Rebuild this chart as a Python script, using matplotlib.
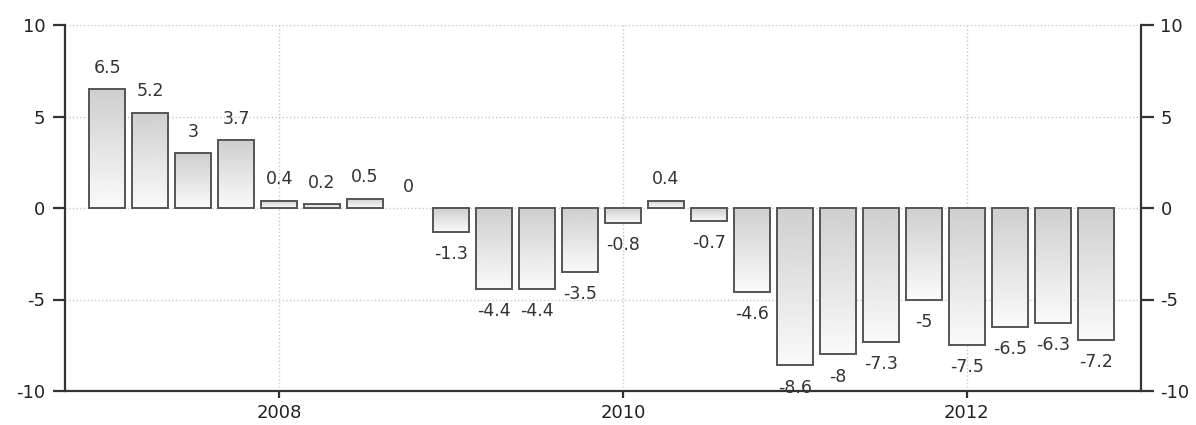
import matplotlib as mpl
mpl.use('Agg')
from matplotlib import pyplot as plt
import numpy as np

quarters = ['2007Q1', '2007Q2', '2007Q3', '2007Q4', '2008Q1', '2008Q2', '2008Q3', '2008Q4',
            '2009Q1', '2009Q2', '2009Q3', '2009Q4', '2010Q1', '2010Q2', '2010Q3', '2010Q4',
            '2011Q1', '2011Q2', '2011Q3', '2011Q4', '2012Q1', '2012Q2', '2012Q3', '2012Q4']
values = [6.5, 5.2, 3, 3.7, 0.4, 0.2, 0.5, 0, -1.3, -4.4, -4.4, -3.5,
          -0.8, 0.4, -0.7, -4.6, -8.6, -8, -7.3, -5, -7.5, -6.5, -6.3, -7.2]
year_ticks = ['2008', '2010', '2012']

x = np.arange(len(values))
tick_pos = [quarters.index(y + 'Q1') for y in year_ticks]

plt.rcParams['font.family'] = ['DejaVu Sans']
plt.rcParams['axes.unicode_minus'] = False
fig = plt.figure(figsize=(11.96, 4.25), dpi=100)
ax = fig.add_axes([65/1196, 1 - 391/425, (1141-65)/1196, (391-25)/425])

bars = ax.bar(x, values, width=0.84, facecolor='none', edgecolor='#555555', linewidth=1.4, zorder=3)
for b, v in zip(bars, values):
    if v == 0:
        b.set_visible(False)

# vertical gradient fill, darker at the top of each bar
grad = np.linspace(0.81, 0.98, 100).reshape(-1, 1)
for b in bars:
    x0, y0 = b.get_x(), b.get_y()
    w, h = b.get_width(), b.get_height()
    if h == 0:
        continue
    im = ax.imshow(grad, cmap='gray', vmin=0, vmax=1, aspect='auto',
                   extent=(x0, x0 + w, min(y0, y0 + h), max(y0, y0 + h)),
                   origin='upper', zorder=2, interpolation='bilinear')
    im.set_clip_path(b)

for xi, v in zip(x, values):
    if v >= 0:
        ax.annotate(f'{v:g}', (xi, v), xytext=(0, 9), textcoords='offset points',
                    ha='center', va='bottom', fontsize=12.5, color='#333333')
    else:
        ax.annotate(f'{v:g}', (xi, v), xytext=(0, -9.5), textcoords='offset points',
                    ha='center', va='top', fontsize=12.5, color='#333333')

ax.set_xlim(-0.98, 24.05)
ax.set_ylim(-10, 10)
ax.set_yticks([-10, -5, 0, 5, 10])
ax.set_xticks(tick_pos)
ax.set_xticklabels(year_ticks)

ax.grid(True, linestyle=':', color='#c8c8c8', linewidth=1)
ax.set_axisbelow(True)

ax.spines['top'].set_visible(False)
for s in ['left', 'right', 'bottom']:
    ax.spines[s].set_color('#333333')
    ax.spines[s].set_linewidth(1.6)

ax.tick_params(axis='y', which='both', left=True, right=True, labelleft=True, labelright=True,
               length=9, width=1.6, color='#333333', labelsize=13, labelcolor='#222222', pad=5)
ax.tick_params(axis='x', length=5, width=1.6, color='#333333', labelsize=13, labelcolor='#222222', pad=4)

fig.savefig('out.png', dpi=100, facecolor='white')
